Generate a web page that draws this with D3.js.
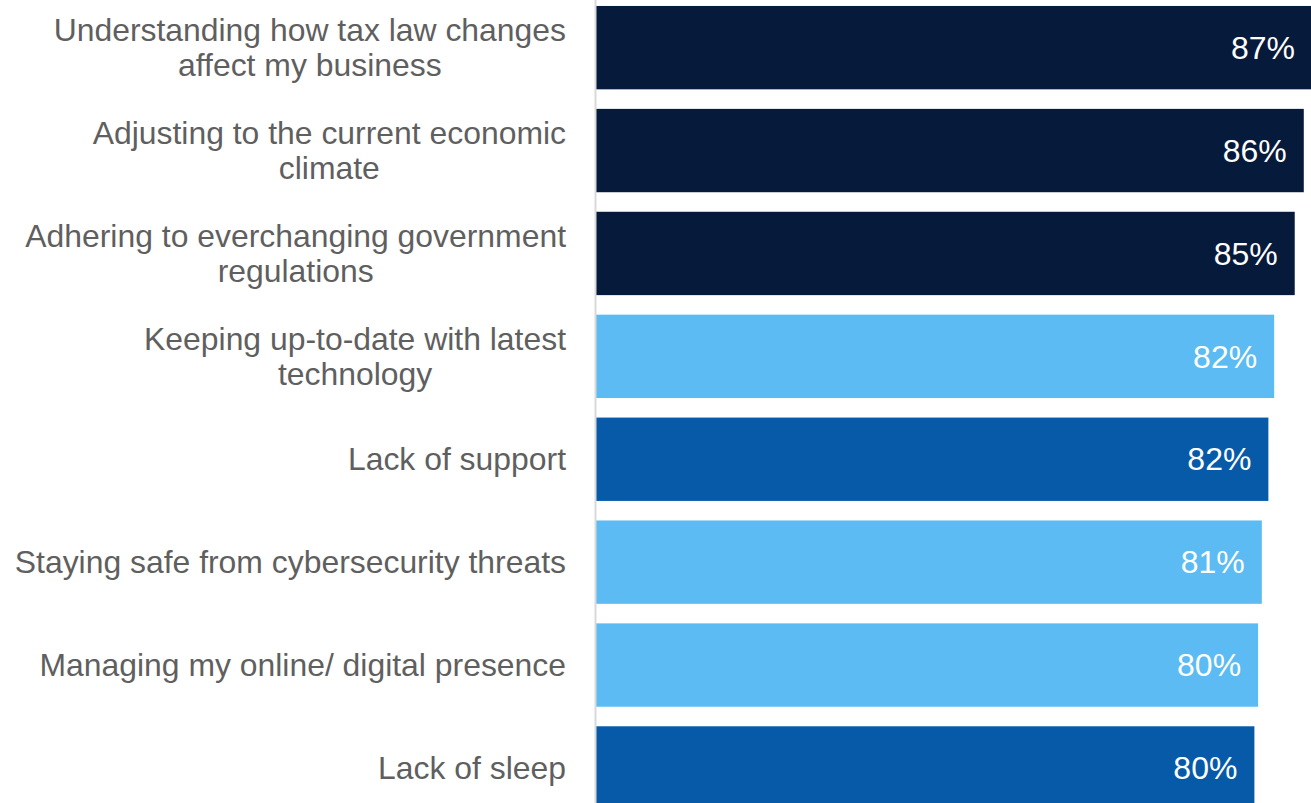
<!DOCTYPE html>
<html>
<head>
<meta charset="utf-8">
<script src="https://cdn.jsdelivr.net/npm/d3@7"></script>
<style>
  html, body { margin: 0; padding: 0; background: #ffffff; overflow: hidden; }
  svg { display: block; font-family: "Liberation Sans", Arial, sans-serif; }
</style>
</head>
<body>
<svg id="chart" width="1311" height="803"></svg>
<script>
// Share of respondents citing each challenge
const categories = [
  "Understanding how tax law changes\naffect my business",
  "Adjusting to the current economic\nclimate",
  "Adhering to everchanging government\nregulations",
  "Keeping up-to-date with latest\ntechnology",
  "Lack of support",
  "Staying safe from cybersecurity threats",
  "Managing my online/ digital presence",
  "Lack of sleep"
];
const values = [87.0, 86.0, 84.9, 82.4, 81.7, 80.9, 80.45, 80.0];
const groups = ["top", "top", "top", "light", "mid", "light", "light", "mid"];

const colors = { top: "#061a3b", light: "#5bbbf2", mid: "#065aa8" };

const axisX = 595;
const svg = d3.select("#chart");

const x = d3.scaleLinear().domain([0, 100]).range([axisX + 1, axisX + 1 + 823]);
const y = d3.scaleBand()
  .domain(categories)
  .range([-3.8, 819.4])
  .paddingInner(0.19)
  .paddingOuter(0.095);

// Bars
svg.append("g").selectAll("rect")
  .data(categories)
  .join("rect")
  .attr("x", x(0))
  .attr("y", d => y(d))
  .attr("width", (d, i) => x(values[i]) - x(0))
  .attr("height", y.bandwidth())
  .attr("fill", (d, i) => colors[groups[i]]);

// Value labels inside bar ends
svg.append("g").selectAll("text")
  .data(categories)
  .join("text")
  .attr("x", (d, i) => x(values[i]) - 17)
  .attr("y", d => y(d) + y.bandwidth() / 2)
  .attr("dy", "0.35em")
  .attr("text-anchor", "end")
  .attr("fill", "#ffffff")
  .style("font-size", "32px")
  .text((d, i) => d3.format(".0f")(values[i]) + "%");

// Category axis
const axis = svg.append("g")
  .attr("transform", `translate(${axisX},0)`)
  .call(d3.axisLeft(y).tickSize(0).tickFormat(""));
axis.select(".domain")
  .attr("stroke", "#d9d9d9")
  .attr("stroke-width", 2);

// Wrapped category labels: right-aligned block, lines centred within it
const labelRight = 566;
const fontSize = 31.9;
const lineH = 35;
const labels = svg.append("g")
  .style("font-size", fontSize + "px")
  .attr("fill", "#5f5f5f");

categories.forEach(cat => {
  const lines = cat.split("\n");
  const t = labels.append("text").attr("text-anchor", "middle");
  const spans = lines.map(ln => t.append("tspan").text(ln));
  const maxW = d3.max(spans, s => s.node().getComputedTextLength());
  const cx = labelRight - maxW / 2;
  const cy = y(cat) + y.bandwidth() / 2;
  const startY = cy - (lines.length - 1) * lineH / 2;
  spans.forEach((s, j) => {
    s.attr("x", cx).attr("y", startY + j * lineH).attr("dy", "0.35em");
  });
});
</script>
</body>
</html>
